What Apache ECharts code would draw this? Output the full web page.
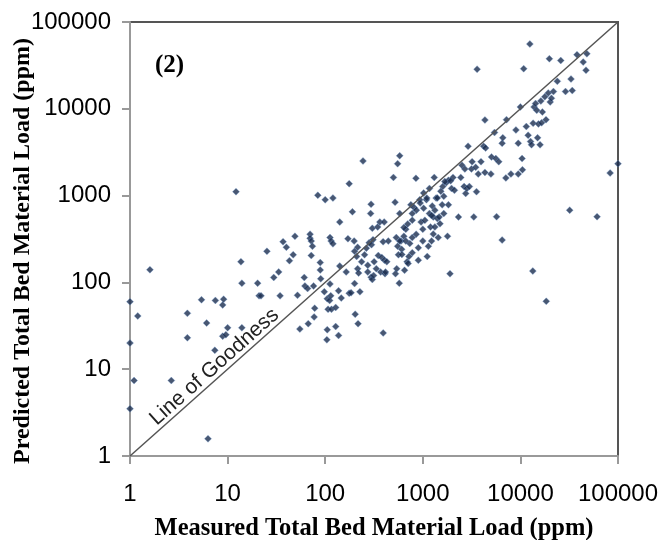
<!DOCTYPE html>
<html>
<head>
<meta charset="utf-8">
<script src="https://cdn.jsdelivr.net/npm/echarts@6/dist/echarts.min.js"></script>
<style>html,body{margin:0;padding:0;background:#fff}#c{width:663px;height:540px}</style>
</head>
<body>
<div id="c"></div>
<script>
var measured = [1,1,1.2,1.1,1,1.6,2.65,6.3,3.87,3.87,5.4,6.1,7.5,7.4,8.9,9.1,8.9,9.6,10,12.2,13.7,14,14,20.3,21,22,25.3,29.7,33.4,34.5,37,40,43,47,49,52,55,61,62,66,67,70,70,72,72,74,76,78,77,84,89,89,90,100,98,105,104,105,107,112,115,112,111,114,116,120,120,128,128,137,137,141,141,146,164,171,176,176,184,190,198,200,200,203,210,215,217,215,220,227,236,244,253,264,273,273,282,292,295,298,295,304,309,304,313,317,334,345,350,363,370,380,393,402,392,405,410,415,428,443,500,520,525,535,540,552,580,580,574,552,563,597,608,640,650,670,690,708,720,735,755,780,780,815,855,900,930,850,960,1000,1020,1050,1090,1110,1140,1170,1170,1200,1230,1280,1310,1330,1370,1410,1440,1470,1500,1600,1640,1740,1790,1830,1900,1970,2040,2110,2320,2450,2520,2650,2700,2750,2830,2910,3000,3150,3200,3330,3480,3550,3600,3700,3950,4200,4330,4330,4400,4990,5060,5430,5600,5700,6000,6500,6500,6600,7100,7200,8000,9000,9500,9500,10000,10400,10500,10800,11500,12000,12500,12700,13000,13400,13500,13800,14300,14700,15000,15300,15900,16200,16500,16800,17800,18300,18400,19300,19800,20200,20800,21800,23900,25900,29000,32000,33000,34000,38000,44000,48000,47000,61000,83000,100000,1020,1100,1250,1330,1580,1640,1530,1830,1680,1930,940,860,780,700,640,580,1280,1410,1230,1000,900,780,670,610];
var predicted = [60,20,41,7.4,3.5,140,7.4,1.58,44,23,63,34,62,16.5,55,64,24,25,30,1110,173,98,30,98,70,70,228,114,132,70,294,254,178,208,340,71,29,114,91,85,33.5,359,322,299,204,261,91,50.5,40,1008,169,139,110,895,78,28.5,21.8,65,49,328,300,96,62,70,49,936,278,51.5,31,24.5,80,495,154,66,132,319,1373,75,76,650,299,228,97,43,199,144,33.5,254,128,78,173,2507,208,248,158,132,286,621,795,272,115,420,310,108,120,173,144,435,204,495,132,194,26.2,495,294,180,126,132,173,299,1620,839,126,328,144,2333,2876,621,98,261,208,299,241,340,138,410,173,165,199,281,782,621,328,727,359,180,895,1580,495,410,715,519,895,199,261,621,1210,435,299,568,1620,435,936,543,328,568,475,1270,621,1410,340,782,126,1210,1620,1150,568,1620,2230,1270,2030,1060,1210,3700,1270,2030,2460,568,2120,1110,28600,1770,2460,3700,1850,7430,3530,1770,2790,5330,2670,572,2460,307,4000,4630,1600,7500,1770,5700,4000,1770,10500,2670,1980,29000,6240,4950,55700,4200,3850,135,6830,10500,11500,9600,4630,6700,3850,12300,6900,9200,13800,7500,60.5,15200,37700,12000,13200,15800,20700,36000,15800,680,22000,16200,42000,34500,43000,27800,572,1820,2330,1070,936,760,680,782,980,1120,1500,1450,1480,820,680,520,470,430,300,360,940,590,300,250,220,300,210];
var lineStart = [1, 1];
var lineEnd = [100000, 100000];
var lineLabel = 'Line of Goodness';
var panelLabel = '(2)';
var xTitle = 'Measured Total Bed Material Load (ppm)';
var yTitle = 'Predicted Total Bed Material Load (ppm)';

var pts = measured.map(function (m, i) { return [m, predicted[i]]; });
var chart = echarts.init(document.getElementById('c'), null, {renderer: 'canvas'});
var tickFmt = function (v) { return String(Math.round(v)); };
chart.setOption({
  animation: false,
  backgroundColor: '#ffffff',
  grid: {left: 130, right: 45, top: 22, bottom: 84, outerBoundsMode: 'none', containLabel: false, show: true, borderColor: '#555', borderWidth: 2, backgroundColor: 'transparent'},
  xAxis: {
    type: 'log', logBase: 10, min: 1, max: 100000,
    name: xTitle, nameLocation: 'middle', nameGap: 60, nameMoveOverlap: false,
    nameTextStyle: {fontFamily: 'Liberation Serif', fontWeight: 'bold', fontSize: 24.5, color: '#000'},
    axisLine: {show: true, lineStyle: {color: '#999', width: 2}},
    axisTick: {show: true, inside: false, length: 8, lineStyle: {color: '#999', width: 2}},
    minorTick: {show: false},
    splitLine: {show: false},
    axisLabel: {formatter: tickFmt, fontFamily: 'Liberation Sans', fontSize: 24, color: '#000', margin: 26, showMaxLabel: true, showMinLabel: true}
  },
  yAxis: {
    type: 'log', logBase: 10, min: 1, max: 100000,
    name: yTitle, nameLocation: 'middle', nameGap: 95, nameRotate: 90, nameMoveOverlap: false,
    nameTextStyle: {fontFamily: 'Liberation Serif', fontWeight: 'bold', fontSize: 24, color: '#000', padding: [0, 24, 0, 0]},
    axisLine: {show: true, lineStyle: {color: '#999', width: 2}},
    axisTick: {show: true, inside: false, length: 8, lineStyle: {color: '#999', width: 2}},
    splitLine: {show: false},
    axisLabel: {formatter: tickFmt, fontFamily: 'Liberation Sans', fontSize: 24, color: '#000', margin: 19, showMaxLabel: true, showMinLabel: true}
  },
  graphic: [{
    type: 'text', left: 155, top: 53,
    style: {text: panelLabel, font: 'bold 25px "Liberation Serif"', fill: '#000'}
  }],
  series: [{
    type: 'scatter',
    data: pts,
    symbol: 'diamond',
    symbolSize: 7,
    clip: false,
    itemStyle: {color: '#1a2d4f', borderColor: 'rgba(120,160,210,0.6)', borderWidth: 0.8},
    markLine: {
      silent: true,
      symbol: ['none', 'none'],
      lineStyle: {color: '#555', width: 1.5, type: 'solid'},
      label: {show: true, position: 'insideStartTop', formatter: lineLabel, fontFamily: 'Liberation Sans', fontSize: 21, color: '#222', distance: [40, 0]},
      data: [[{coord: lineStart}, {coord: lineEnd}]]
    }
  }]
});
</script>
</body>
</html>
